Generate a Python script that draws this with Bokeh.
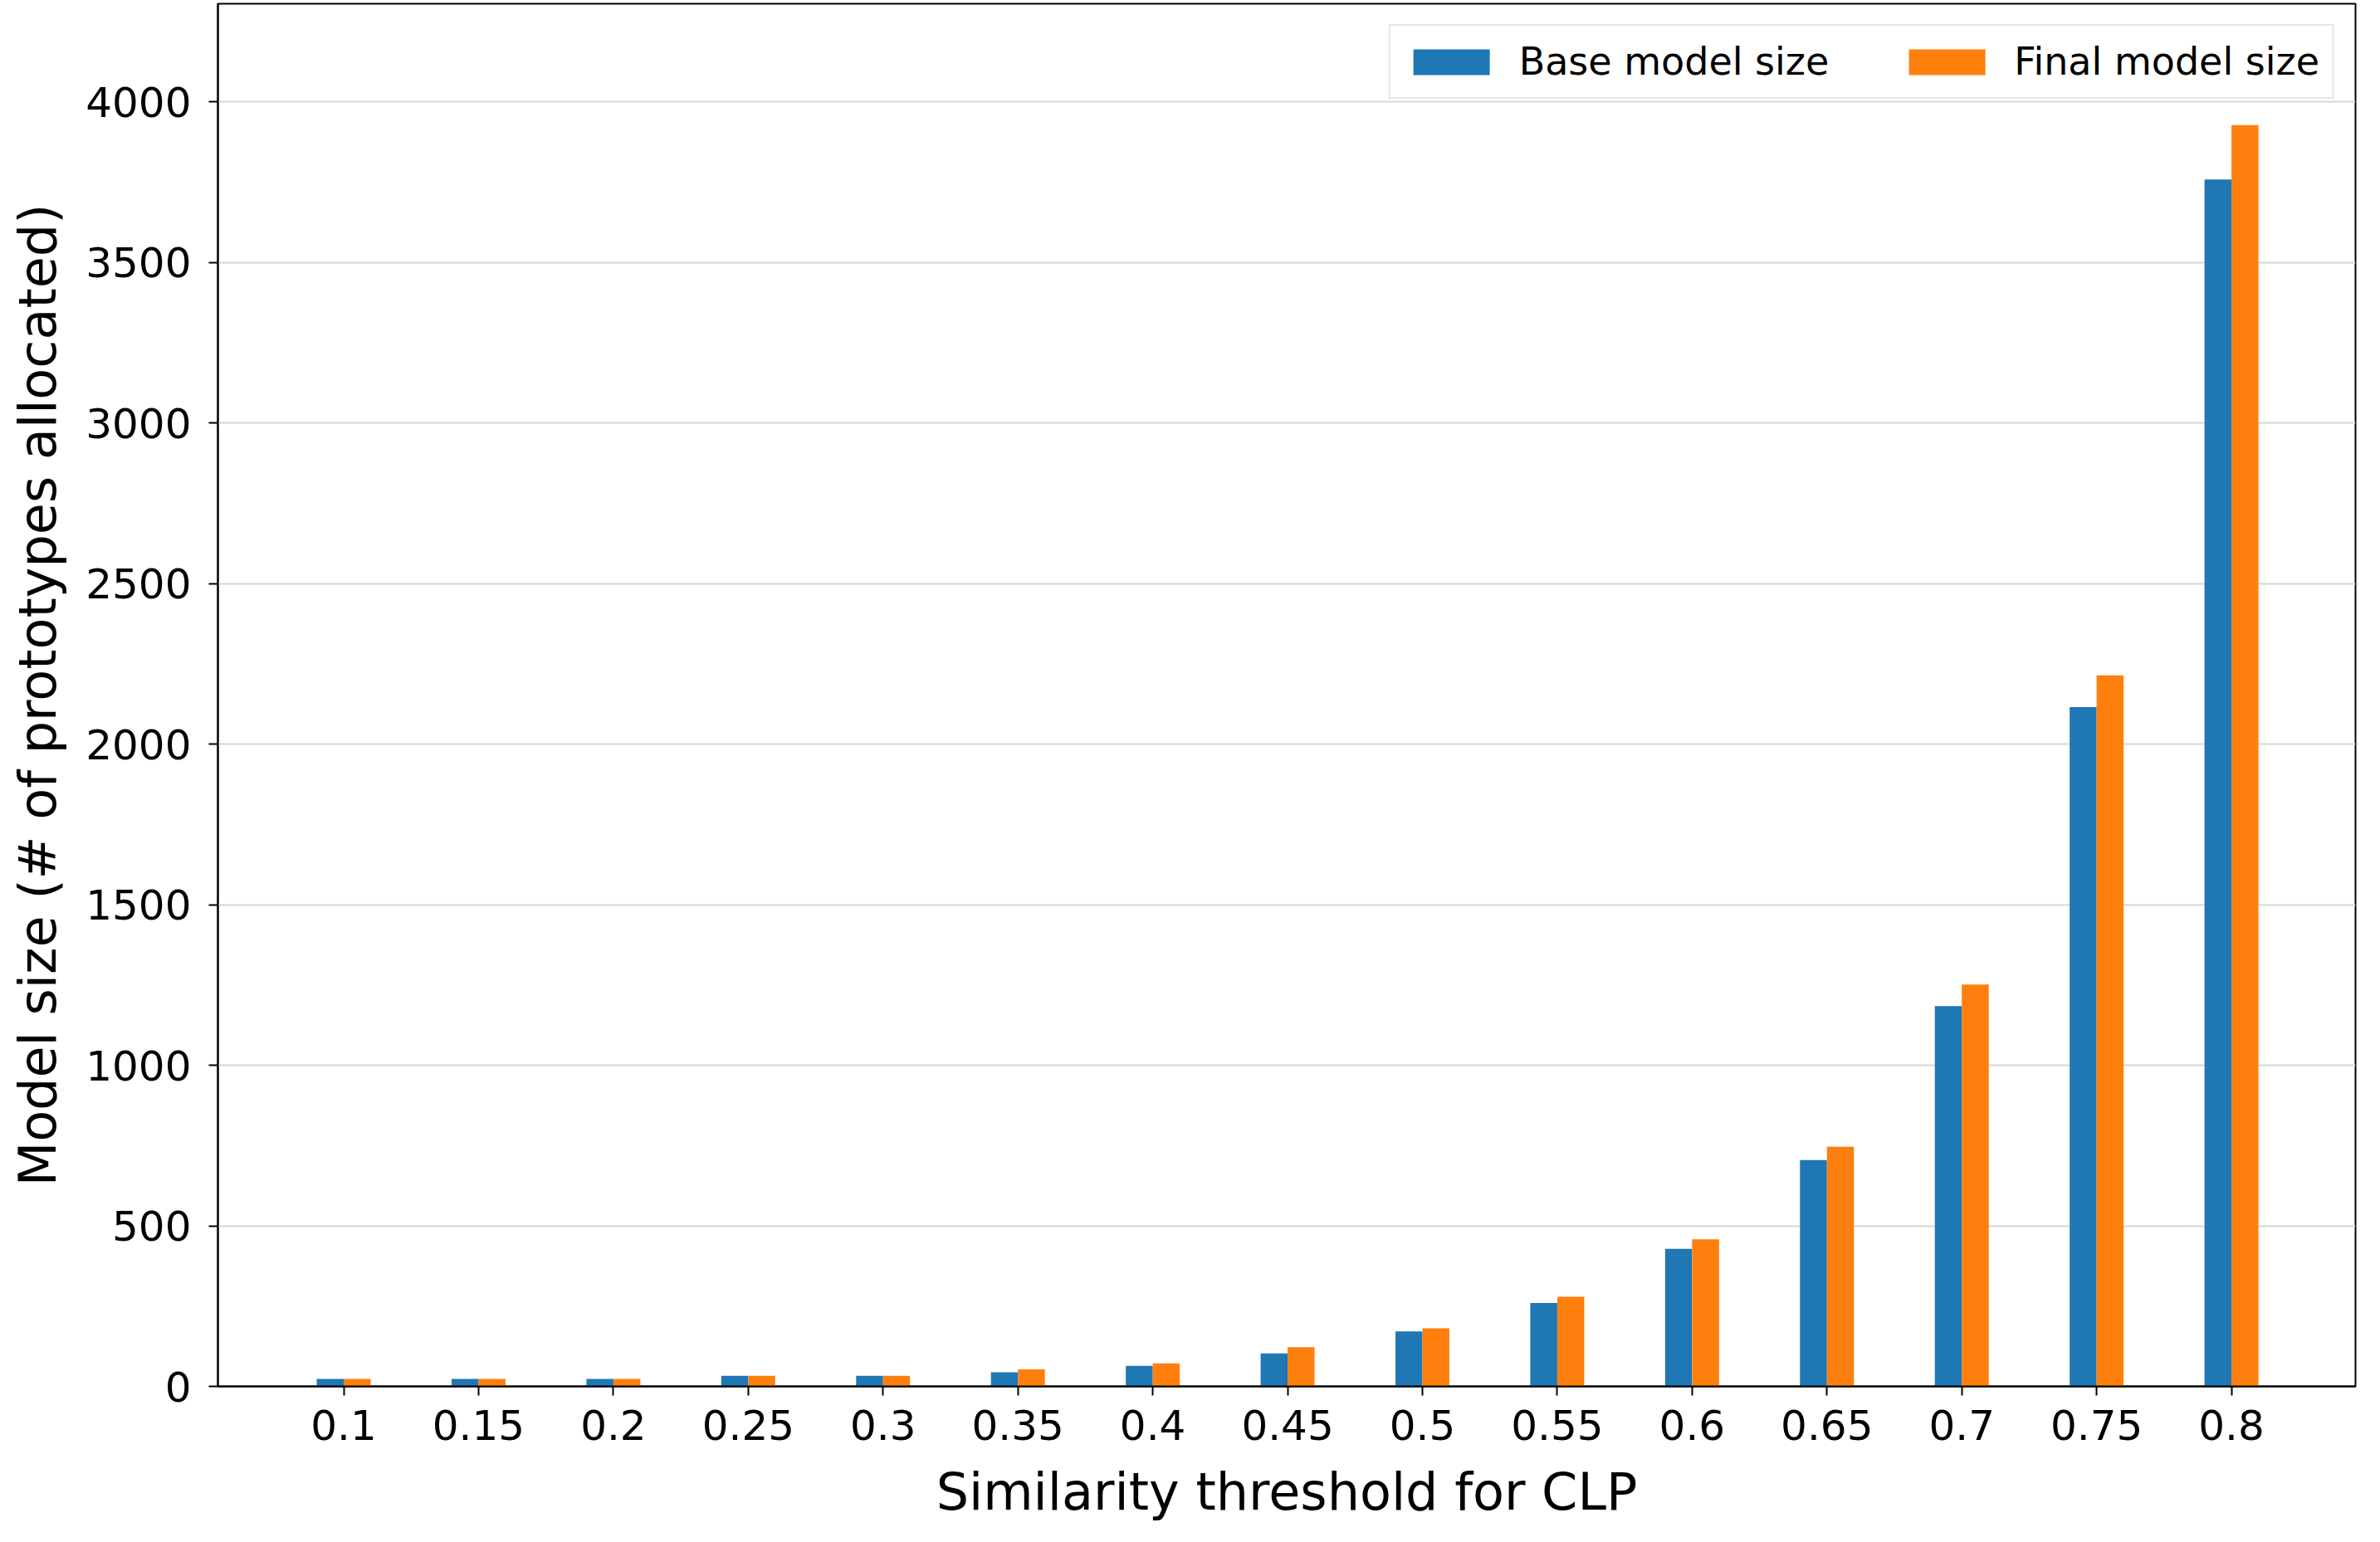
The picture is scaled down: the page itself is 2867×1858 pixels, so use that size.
from bokeh.plotting import figure
from bokeh.models import ColumnDataSource, Range1d, FixedTicker
from bokeh.transform import dodge
from bokeh.embed import file_html
from bokeh.resources import INLINE

thresholds = ["0.1", "0.15", "0.2", "0.25", "0.3", "0.35", "0.4", "0.45",
              "0.5", "0.55", "0.6", "0.65", "0.7", "0.75", "0.8"]
base_size = [23, 23, 23, 33, 33, 44, 64, 103, 171, 260, 428, 705, 1184, 2115, 3758]
final_size = [23, 23, 23, 33, 33, 53, 72, 122, 181, 279, 458, 746, 1251, 2214, 3927]
y_ticks = [0, 500, 1000, 1500, 2000, 2500, 3000, 3500, 4000]

xs = list(range(len(thresholds)))
source = ColumnDataSource(data=dict(x=xs, base=base_size, final=final_size))

FONT = "DejaVu Sans"

p = figure(width=2851, height=1842, output_backend="svg", toolbar_location=None,
           x_range=Range1d(-0.933, 14.92), y_range=Range1d(0, 4305),
           min_border_left=262, min_border_right=14, min_border_top=4,
           min_border_bottom=172)

p.vbar(x=dodge("x", -0.1, range=p.x_range), top="base", width=0.2, source=source,
       fill_color="#1f77b4", line_color=None, legend_label="Base model size")
p.vbar(x=dodge("x", 0.1, range=p.x_range), top="final", width=0.2, source=source,
       fill_color="#ff7f0e", line_color=None, legend_label="Final model size")

p.xaxis.ticker = FixedTicker(ticks=xs)
p.xaxis.major_label_overrides = {i: t for i, t in enumerate(thresholds)}
p.yaxis.ticker = FixedTicker(ticks=y_ticks)

p.xaxis.axis_label = "Similarity threshold for CLP"
p.yaxis.axis_label = "Model size (# of prototypes allocated)"

for ax in (p.xaxis, p.yaxis):
    ax.axis_label_text_font = FONT
    ax.axis_label_text_font_size = "62px"
    ax.axis_label_text_font_style = "normal"
    ax.axis_label_text_color = "black"
    ax.major_label_text_font = FONT
    ax.major_label_text_font_size = "50px"
    ax.major_label_text_color = "black"
    ax.major_tick_out = 11
    ax.major_tick_in = 0
    ax.major_tick_line_width = 2
    ax.major_tick_line_color = "black"
    ax.minor_tick_line_color = None
    ax.axis_line_color = "black"
    ax.axis_line_width = 2

p.xaxis.major_label_standoff = 17
p.xaxis.axis_label_standoff = 23
p.yaxis.major_label_standoff = 21
p.yaxis.axis_label_standoff = 18

p.xgrid.grid_line_color = None
p.ygrid.grid_line_color = "#d6d6d6"
p.ygrid.grid_line_width = 2

p.outline_line_color = "black"
p.outline_line_width = 2
p.background_fill_color = "white"
p.border_fill_color = "white"

p.legend.location = "top_right"
p.legend.orientation = "horizontal"
p.legend.margin = 25
p.legend.padding = 16
p.legend.spacing = 84
p.legend.label_standoff = 24
p.legend.glyph_width = 115
p.legend.glyph_height = 39
p.legend.label_text_font = FONT
p.legend.label_text_font_size = "46px"
p.legend.label_text_color = "black"
p.legend.border_line_color = "#cccccc"
p.legend.border_line_width = 2
p.legend.background_fill_color = "white"
p.legend.background_fill_alpha = 0.8

open("out.html", "w").write(file_html(p, INLINE))
